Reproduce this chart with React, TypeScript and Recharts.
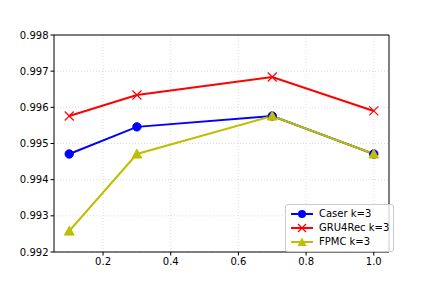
import React from "react";
import {
  LineChart,
  Line,
  XAxis,
  YAxis,
  CartesianGrid,
  ReferenceLine,
} from "recharts";

const xValues = [0.1, 0.3, 0.7, 1.0];
const caser = [0.99471, 0.99546, 0.99576, 0.99471];
const gru4rec = [0.99576, 0.99634, 0.99684, 0.9959];
const fpmc = [0.99258, 0.99471, 0.99576, 0.99471];
const xTicks = [0.2, 0.4, 0.6, 0.8, 1.0];
const yTicks = [0.992, 0.993, 0.994, 0.995, 0.996, 0.997, 0.998];

const data = xValues.map((x, i) => ({
  x,
  caser: caser[i],
  gru4rec: gru4rec[i],
  fpmc: fpmc[i],
}));

const FONT = "DejaVu Sans, sans-serif";

const CircleDot = (props: any) => {
  const { cx, cy } = props;
  if (cx == null || cy == null) return null;
  return <circle cx={cx} cy={cy} r={4.2} fill="#0000ff" stroke="#0000ff" />;
};
const XDot = (props: any) => {
  const { cx, cy } = props;
  if (cx == null || cy == null) return null;
  const s = 4.5;
  return (
    <g stroke="#ff0000" strokeWidth={1.2}>
      <line x1={cx - s} y1={cy - s} x2={cx + s} y2={cy + s} />
      <line x1={cx - s} y1={cy + s} x2={cx + s} y2={cy - s} />
    </g>
  );
};
const TriDot = (props: any) => {
  const { cx, cy } = props;
  if (cx == null || cy == null) return null;
  const s = 4.8;
  return (
    <polygon
      points={`${cx},${cy - s} ${cx - s},${cy + s * 0.85} ${cx + s},${cy + s * 0.85}`}
      fill="#bfbf00"
      stroke="#bfbf00"
    />
  );
};

const legendItems = [
  { label: "Caser k=3", color: "#0000ff", kind: "circle" },
  { label: "GRU4Rec k=3", color: "#ff0000", kind: "x" },
  { label: "FPMC k=3", color: "#bfbf00", kind: "tri" },
];

const LegendBox = () => (
  <div
    style={{
      position: "absolute",
      left: 285,
      top: 204,
      border: "1px solid #cccccc",
      borderRadius: 3,
      background: "rgba(255,255,255,0.8)",
      padding: "2px 4px 2px 5px",
      fontFamily: FONT,
      fontSize: 10,
      color: "#000",
      lineHeight: "14px",
    }}
  >
    {legendItems.map((it) => (
      <div
        key={it.label}
        style={{ display: "flex", alignItems: "center", height: 14 }}
      >
        <svg width={22} height={10} style={{ marginRight: 6 }}>
          <line x1={0} y1={5} x2={22} y2={5} stroke={it.color} strokeWidth={2} />
          {it.kind === "circle" && <circle cx={11} cy={5} r={4} fill={it.color} />}
          {it.kind === "x" && (
            <g stroke={it.color} strokeWidth={1.2}>
              <line x1={7} y1={1} x2={15} y2={9} />
              <line x1={7} y1={9} x2={15} y2={1} />
            </g>
          )}
          {it.kind === "tri" && (
            <polygon points="11,0.5 6.5,9 15.5,9" fill={it.color} />
          )}
        </svg>
        <span>{it.label}</span>
      </div>
    ))}
  </div>
);

export default function App() {
  return (
    <div
      style={{
        position: "fixed",
        left: 0,
        top: 0,
        width: 432,
        height: 288,
        background: "#fff",
      }}
    >
      <LineChart
        width={432}
        height={288}
        data={data}
        margin={{ top: 35, right: 43, left: 0, bottom: 0 }}
      >
        <CartesianGrid
          stroke="#dddddd"
          strokeDasharray="1 2"
          horizontalValues={yTicks}
          verticalValues={xTicks}
        />
        <XAxis
          dataKey="x"
          type="number"
          domain={[0.055, 1.045]}
          allowDataOverflow
          ticks={xTicks}
          tickFormatter={(v: number) => v.toFixed(1)}
          height={36}
          axisLine={{ stroke: "#000" }}
          tickLine={{ stroke: "#000" }}
          tickSize={3.5}
          tick={{ fill: "#000", fontSize: 10, fontFamily: FONT }}
        />
        <YAxis
          type="number"
          domain={[0.992, 0.998]}
          allowDataOverflow
          ticks={yTicks}
          tickFormatter={(v: number) => v.toFixed(3)}
          width={54}
          axisLine={{ stroke: "#000" }}
          tickLine={{ stroke: "#000" }}
          tickSize={3.5}
          tick={{ fill: "#000", fontSize: 10, fontFamily: FONT }}
        />
        <ReferenceLine y={0.998} stroke="#000" strokeWidth={1} ifOverflow="visible" />
        <ReferenceLine x={1.045} stroke="#000" strokeWidth={1} ifOverflow="visible" />
        <Line
          dataKey="caser"
          stroke="#0000ff"
          strokeWidth={2}
          dot={<CircleDot />}
          activeDot={false}
          isAnimationActive={false}
        />
        <Line
          dataKey="gru4rec"
          stroke="#ff0000"
          strokeWidth={2}
          dot={<XDot />}
          activeDot={false}
          isAnimationActive={false}
        />
        <Line
          dataKey="fpmc"
          stroke="#bfbf00"
          strokeWidth={2}
          dot={<TriDot />}
          activeDot={false}
          isAnimationActive={false}
        />
      </LineChart>
      <LegendBox />
    </div>
  );
}
